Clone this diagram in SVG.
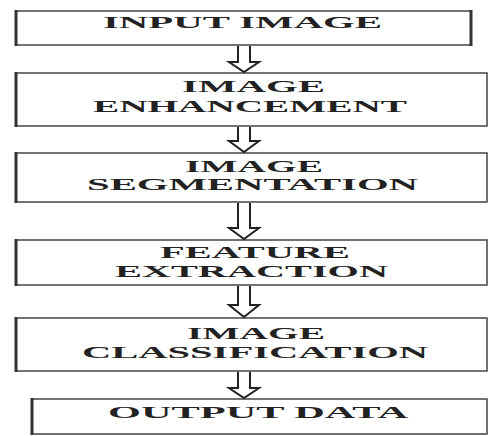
<svg xmlns="http://www.w3.org/2000/svg" width="488" height="436" viewBox="0 0 488 436">
<style>
.box{fill:#fff;stroke:#444;stroke-width:1.5}
.side{stroke:#333;stroke-width:3}
.t{font-family:"Liberation Serif","Times New Roman",serif;font-weight:bold;font-size:17px;fill:#222;text-anchor:start}
.arr{fill:#fff;stroke:#222;stroke-width:2;stroke-linejoin:miter}
</style>
<rect width="488" height="436" fill="#fff"/>
<g id="n1">
<rect class="box" x="16" y="11" width="455" height="34"/>
<line class="side" x1="16" y1="10" x2="16" y2="46"/>
<line class="side" x1="471" y1="10" x2="471" y2="46"/>
<text class="t" x="103" y="28" textLength="279" lengthAdjust="spacingAndGlyphs">INPUT IMAGE</text>
</g>
<g id="n2">
<rect class="box" x="16" y="73" width="471" height="53"/>
<line class="side" x1="16" y1="72" x2="16" y2="127"/>
<text class="t" x="182" y="92" textLength="143" lengthAdjust="spacingAndGlyphs">IMAGE</text>
<text class="t" x="93" y="112" textLength="314" lengthAdjust="spacingAndGlyphs">ENHANCEMENT</text>
</g>
<g id="n3">
<rect class="box" x="16" y="153" width="471" height="49"/>
<line class="side" x1="16" y1="152" x2="16" y2="203"/>
<text class="t" x="185" y="172" textLength="138" lengthAdjust="spacingAndGlyphs">IMAGE</text>
<text class="t" x="87" y="190" textLength="331" lengthAdjust="spacingAndGlyphs">SEGMENTATION</text>
</g>
<g id="n4">
<rect class="box" x="16" y="240" width="471" height="45"/>
<line class="side" x1="16" y1="239" x2="16" y2="286"/>
<text class="t" x="160" y="258" textLength="190" lengthAdjust="spacingAndGlyphs">FEATURE</text>
<text class="t" x="115" y="277" textLength="273" lengthAdjust="spacingAndGlyphs">EXTRACTION</text>
</g>
<g id="n5">
<rect class="box" x="16" y="318" width="471" height="53"/>
<line class="side" x1="16" y1="317" x2="16" y2="372"/>
<text class="t" x="187" y="339" textLength="138" lengthAdjust="spacingAndGlyphs">IMAGE</text>
<text class="t" x="82" y="358" textLength="346" lengthAdjust="spacingAndGlyphs">CLASSIFICATION</text>
</g>
<g id="n6">
<rect class="box" x="32" y="399" width="455" height="35"/>
<line class="side" x1="32" y1="398" x2="32" y2="435"/>
<text class="t" x="108" y="418" textLength="300" lengthAdjust="spacingAndGlyphs">OUTPUT DATA</text>
</g>
<g id="connectors">
<path class="arr" d="M238,46 V62 H229 L244,72 L259,62 H250 V46"/>
<path class="arr" d="M238,127 V141 H229 L244,152 L259,141 H250 V127"/>
<path class="arr" d="M238,203 V228 H229 L244,239 L259,228 H250 V203"/>
<path class="arr" d="M238,286 V305 H229 L244,317 L259,305 H250 V286"/>
<path class="arr" d="M238,372 V388 H229 L244,398 L259,388 H250 V372"/>
</g>
</svg>
